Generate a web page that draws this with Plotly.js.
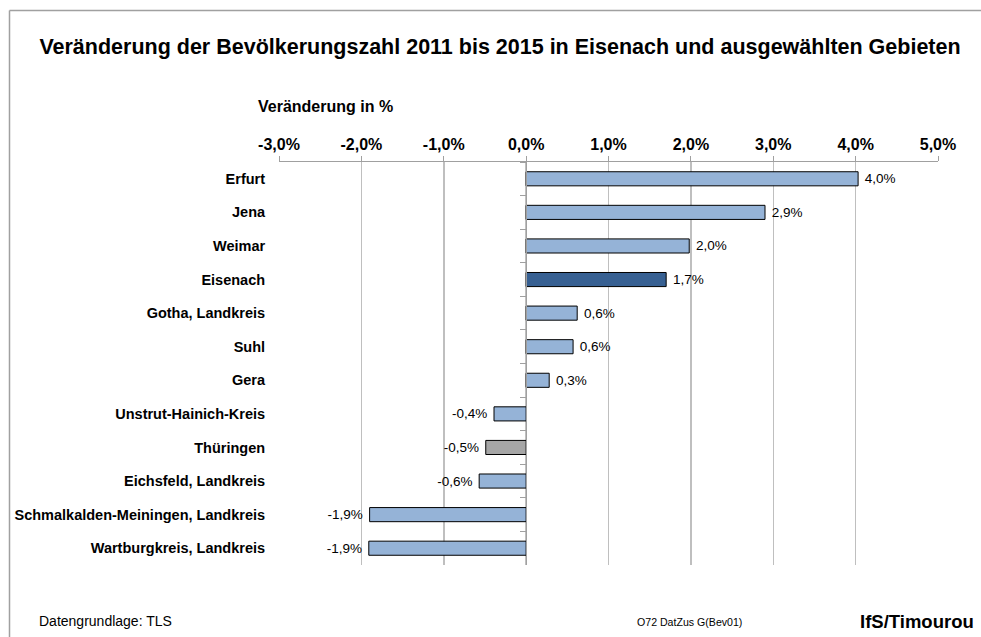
<!DOCTYPE html>
<html>
<head>
<meta charset="utf-8">
<script src="https://cdn.plot.ly/plotly-3.0.1.min.js"></script>
<style>
html,body{margin:0;padding:0;background:#fff;}
#chart{width:981px;height:637px;}
</style>
</head>
<body>
<div id="chart"></div>
<script>
const categories = [
  "Erfurt", "Jena", "Weimar", "Eisenach", "Gotha, Landkreis", "Suhl", "Gera",
  "Unstrut-Hainich-Kreis", "Thüringen", "Eichsfeld, Landkreis",
  "Schmalkalden-Meiningen, Landkreis", "Wartburgkreis, Landkreis"
];
const changePct = [4.03, 2.90, 1.98, 1.70, 0.62, 0.57, 0.28, -0.39, -0.49, -0.57, -1.90, -1.91];
const barColors = ["#95B3D7","#95B3D7","#95B3D7","#376092","#95B3D7","#95B3D7","#95B3D7",
                   "#95B3D7","#A6A6A6","#95B3D7","#95B3D7","#95B3D7"];
const xTickVals = [-3, -2, -1, 0, 1, 2, 3, 4, 5];
const xTickText = ["-3,0%", "-2,0%", "-1,0%", "0,0%", "1,0%", "2,0%", "3,0%", "4,0%", "5,0%"];

const W = 981, H = 637;
const L = 279, R = 938, T = 162, B = 565;
const px = v => (v - L) / (R - L);
const py = v => (B - v) / (B - T);

const FONT = "Liberation Sans, Arial, sans-serif";
const yRange = [categories.length - 0.5, -0.5];
const NB = "\u00A0";

const traces = [
  {
    type: "bar",
    orientation: "h",
    x: changePct,
    y: categories,
    marker: {color: barColors, line: {color: "#000000", width: 1}},
    width: 0.42,
    texttemplate: NB + "%{x:.1f}%" + NB,
    textposition: "outside",
    constraintext: "none",
    textfont: {family: FONT, size: 13.5, color: "#000"},
    cliponaxis: false,
    hoverinfo: "skip",
    xaxis: "x", yaxis: "y"
  },
  {
    type: "scatter",
    mode: "markers",
    x: categories.map(() => 0),
    y: categories,
    marker: {opacity: 0, size: 1},
    hoverinfo: "skip",
    showlegend: false,
    xaxis: "x", yaxis: "y2"
  }
];

const layout = {
  width: W, height: H,
  margin: {l: L, r: W - R, t: T, b: H - B, pad: 0},
  paper_bgcolor: "#ffffff",
  plot_bgcolor: "#ffffff",
  showlegend: false,
  separators: ",.",
  font: {family: FONT, color: "#000"},
  title: {
    text: "<b>Veränderung der Bevölkerungszahl 2011 bis 2015 in Eisenach und ausgewählten Gebieten</b>",
    font: {family: FONT, size: 21.5, color: "#000"},
    x: 500 / W, xanchor: "center",
    y: 1 - 46 / H, yanchor: "middle"
  },
  xaxis: {
    side: "top",
    range: [-3, 5],
    tickvals: xTickVals,
    ticktext: xTickText,
    tickfont: {family: FONT, size: 16, color: "#000", weight: "bold"},
    showgrid: true,
    gridcolor: "#BFBFBF",
    gridwidth: 1.5,
    zeroline: false,
    showline: true,
    linecolor: "#A0A0A0",
    linewidth: 1,
    ticks: "outside",
    ticklen: 5,
    tickcolor: "#A0A0A0",
    automargin: false,
    fixedrange: true
  },
  yaxis: {
    type: "category",
    range: yRange,
    autorange: false,
    tickfont: {family: FONT, size: 14.5, color: "#000", weight: "bold"},
    ticks: "outside",
    ticklen: 10,
    tickcolor: "rgba(0,0,0,0)",
    showgrid: false,
    zeroline: false,
    showline: false,
    automargin: false,
    fixedrange: true
  },
  yaxis2: {
    type: "category",
    overlaying: "y",
    anchor: "free",
    position: px(526),
    range: yRange,
    autorange: false,
    showticklabels: false,
    ticks: "outside",
    tickson: "boundaries",
    ticklen: 6,
    tickcolor: "#A0A0A0",
    showline: true,
    linecolor: "#A0A0A0",
    linewidth: 1,
    showgrid: false,
    zeroline: false,
    automargin: false,
    fixedrange: true
  },
  shapes: [
    {type: "line", xref: "paper", yref: "paper", x0: px(9.5), x1: px(981), y0: py(10.5), y1: py(10.5),
     line: {color: "#A0A0A0", width: 1.5}},
    {type: "line", xref: "paper", yref: "paper", x0: px(9.5), x1: px(9.5), y0: py(10.5), y1: py(637),
     line: {color: "#A0A0A0", width: 1.5}}
  ],
  annotations: [
    {text: "<b>Veränderung in %</b>", xref: "paper", yref: "paper", x: px(256), y: py(106),
     xanchor: "left", yanchor: "middle", showarrow: false,
     font: {family: FONT, size: 16, color: "#000"}},
    {text: "Datengrundlage: TLS", xref: "paper", yref: "paper", x: px(37), y: py(621),
     xanchor: "left", yanchor: "middle", showarrow: false,
     font: {family: FONT, size: 14, color: "#000"}},
    {text: "O72 DatZus G(Bev01)", xref: "paper", yref: "paper", x: px(689), y: py(622),
     xanchor: "center", yanchor: "middle", showarrow: false,
     font: {family: FONT, size: 10.6, color: "#000"}},
    {text: "<b>IfS/Timourou</b>", xref: "paper", yref: "paper", x: px(976), y: py(621),
     xanchor: "right", yanchor: "middle", showarrow: false,
     font: {family: FONT, size: 18.5, color: "#000"}}
  ]
};

Plotly.newPlot("chart", traces, layout, {displayModeBar: false, staticPlot: true});
</script>
</body>
</html>
